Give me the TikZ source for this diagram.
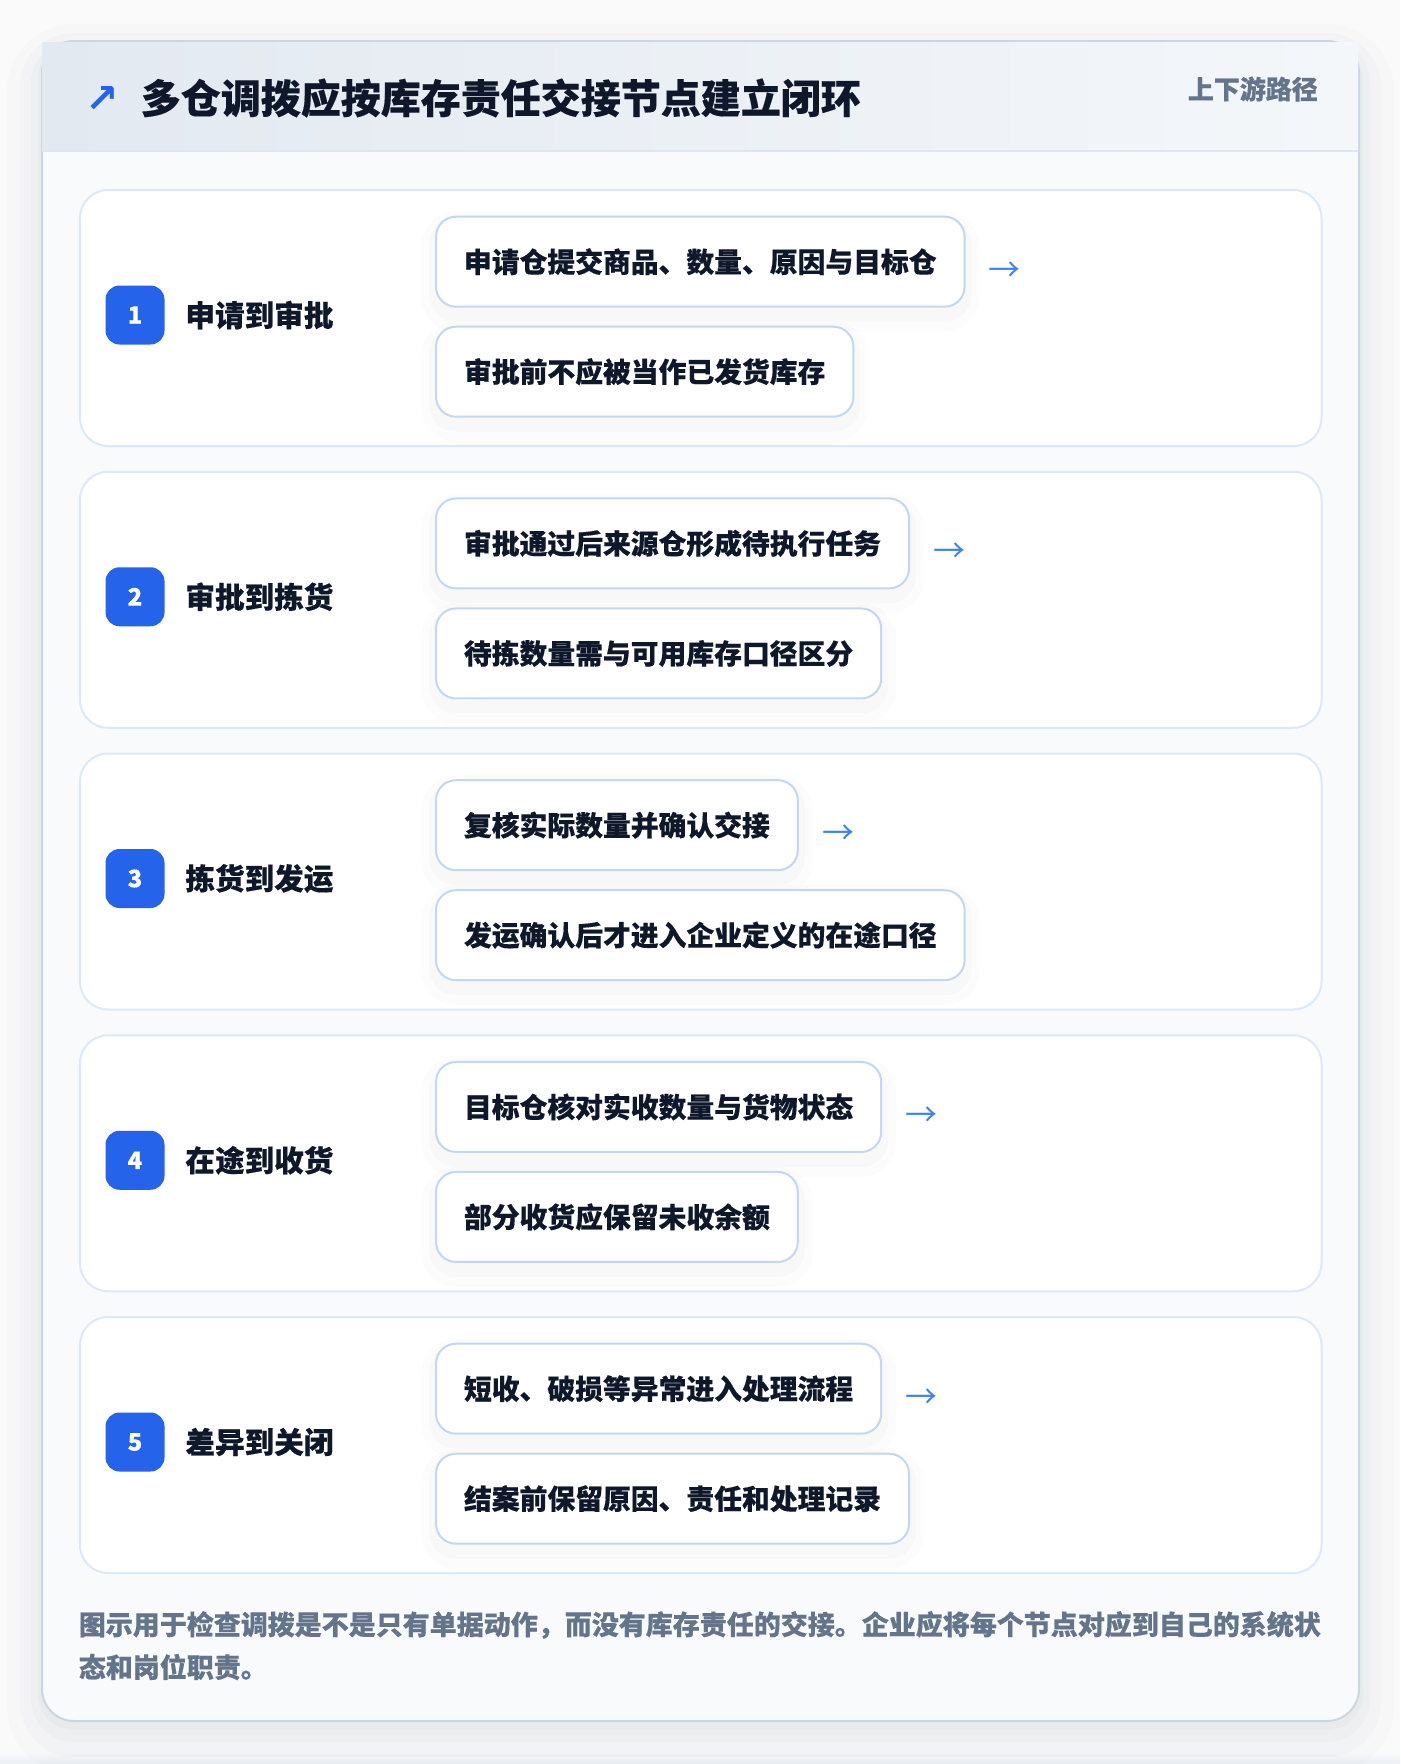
\documentclass[tikz,border=0pt]{standalone}
\usepackage{fontspec}
\setmainfont{Noto Sans CJK SC}[BoldFeatures={FakeBold=0.35}]
\newfontfamily\symfont{DejaVu Sans}
\usetikzlibrary{positioning}
\definecolor{pagebg}{HTML}{FAFAFB}
\definecolor{cardbg}{HTML}{F8FAFC}
\definecolor{cardborder}{HTML}{CCD6E2}
\definecolor{headL}{HTML}{E3E9F1}
\definecolor{headR}{HTML}{F4F7FA}
\definecolor{headline}{HTML}{DCE7F5}
\definecolor{rowborder}{HTML}{DCE9F8}
\definecolor{stepborder}{HTML}{C2D7F4}
\definecolor{badgeblue}{HTML}{2563EB}
\definecolor{ink}{HTML}{0F172A}
\definecolor{muted}{HTML}{64748B}
\definecolor{arrowblue}{HTML}{3B82F6}
\definecolor{shade}{HTML}{1E293B}
\tikzset{
  cardbox/.style={draw=cardborder, line width=2pt, fill=cardbg, rounded corners=32pt,
    preaction={draw=shade, line width=70pt, opacity=0.010, transform canvas={yshift=-18pt}},
    preaction={draw=shade, line width=44pt, opacity=0.014, transform canvas={yshift=-14pt}},
    preaction={draw=shade, line width=22pt, opacity=0.018, transform canvas={yshift=-10pt}},
    preaction={draw=shade, line width=8pt, opacity=0.025, transform canvas={yshift=-5pt}}},
  rowbox/.style={draw=rowborder, line width=2pt, fill=white, rounded corners=28pt},
  stepbox/.style={draw=stepborder, line width=2pt, fill=white, rounded corners=20pt,
    anchor=west, inner xsep=28pt, inner ysep=0pt, minimum height=90pt,
    font=\bfseries\fontsize{27.8}{32}\selectfont, text=ink,
    preaction={draw=shade, line width=30pt, opacity=0.012, transform canvas={yshift=-10pt}},
    preaction={draw=shade, line width=14pt, opacity=0.016, transform canvas={yshift=-8pt}}},
  badgebox/.style={fill=badgeblue, rounded corners=14pt, minimum width=59pt, minimum height=59pt,
    inner sep=0pt, text=white, font=\bfseries\fontsize{24}{28}\selectfont},
  rowtitle/.style={anchor=west, inner sep=0pt, text=ink, font=\bfseries\fontsize{29.6}{34}\selectfont},
  flowarrow/.style={anchor=west, inner sep=0pt, text=arrowblue, font=\fontsize{32}{36}\selectfont},
  foottext/.style={anchor=west, inner sep=0pt, text=muted, font=\bfseries\fontsize{27.0}{32}\selectfont}
}
\newcommand\flowrow[5]{%
  \node[rowbox, anchor=north west, minimum width=1241.5pt, minimum height=256pt] (row#1) at (79,#2) {};
  \node[badgebox] (badge#1) at (135,{#2+126}) {#1};
  \node[rowtitle, right=20.5pt of badge#1] (title#1) {#3};
  \node[stepbox] (step#1a) at (435,{#2+72.7}) {#4};
  \node[stepbox] (step#1b) at (435,{#2+182.7}) {#5};
  \node[flowarrow, right=23pt of step#1a, yshift=-9.5pt] (arrow#1) {→};
}
\begin{document}
\begin{tikzpicture}[x=1pt,y=-1pt]
  \useasboundingbox (0,0) rectangle (1400,1764);
  \fill[pagebg] (0,0) rectangle (1400,1764);
  \shade[top color=pagebg, bottom color=cardborder!40] (0,1752) rectangle (1400,1764);
  % card
  \node[cardbox, anchor=north west, minimum width=1317pt, minimum height=1680pt] (card) at (41,40) {};
  % header
  \shade[left color=headL, right color=headR] (42,42) rectangle (1358,151);
  \draw[headline, line width=2pt] (42,151) -- (1358,151);
  \node[inner sep=0pt, text=badgeblue, font=\bfseries\symfont\fontsize{40}{44}\selectfont] (icon) at (102,100) {↗};
  \node[anchor=west, inner sep=0pt, text=ink, font=\bfseries\fontsize{40}{46}\selectfont] (title) at (140.6,98) {多仓调拨应按库存责任交接节点建立闭环};
  \node[anchor=east, inner sep=0pt, text=muted, font=\bfseries\fontsize{26}{30}\selectfont] (tag) at (1318,89) {上下游路径};
  % rows
  \flowrow{1}{189}{申请到审批}{申请仓提交商品、数量、原因与目标仓}{审批前不应被当作已发货库存}
  \flowrow{2}{470.75}{审批到拣货}{审批通过后来源仓形成待执行任务}{待拣数量需与可用库存口径区分}
  \flowrow{3}{752.5}{拣货到发运}{复核实际数量并确认交接}{发运确认后才进入企业定义的在途口径}
  \flowrow{4}{1034.25}{在途到收货}{目标仓核对实收数量与货物状态}{部分收货应保留未收余额}
  \flowrow{5}{1316}{差异到关闭}{短收、破损等异常进入处理流程}{结案前保留原因、责任和处理记录}
  % footer
  \node[foottext] (foot1) at (78.6,1625) {图示用于检查调拨是不是只有单据动作，而没有库存责任的交接。企业应将每个节点对应到自己的系统状};
  \node[foottext] (foot2) at (78.6,1667) {态和岗位职责。};
\end{tikzpicture}
\end{document}
